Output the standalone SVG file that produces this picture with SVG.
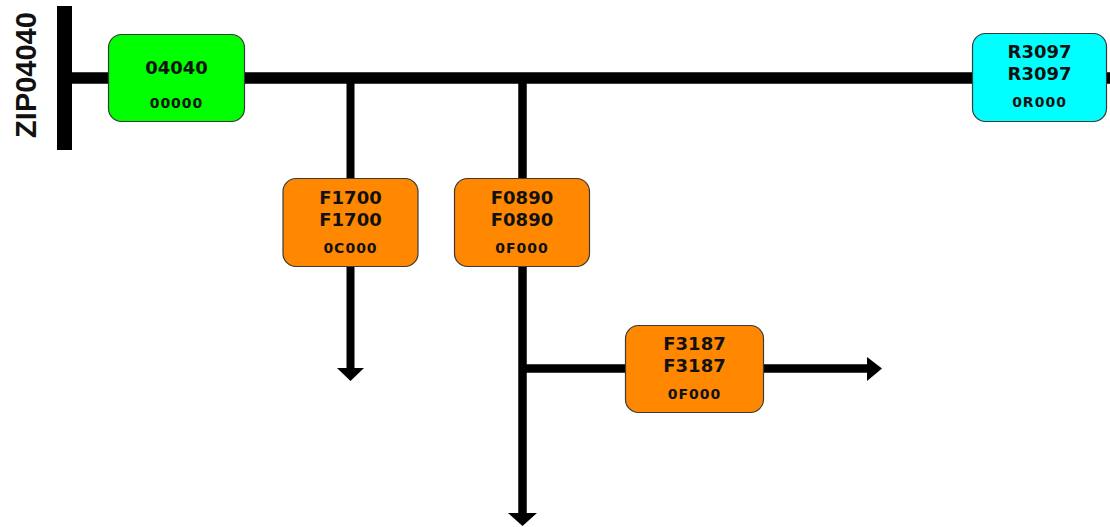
<svg xmlns="http://www.w3.org/2000/svg" width="1110" height="527" viewBox="0 0 1110 527">
<style>
.box{stroke:#3a3a3a;stroke-width:1.2}
.t1{font-family:"DejaVu Sans",Verdana,sans-serif;font-weight:bold;font-size:18px;fill:#111;text-anchor:middle}
.t2{font-family:"DejaVu Sans",Verdana,sans-serif;font-weight:bold;font-size:14px;letter-spacing:1px;fill:#111;text-anchor:middle}
.ln{stroke:#000;fill:none}
.ah{fill:#000}
</style>
<rect width="1110" height="527" fill="#fff"/>
<g id="bus">
<rect x="57" y="6" width="15" height="144" fill="#000"/>
<text x="36" y="75" transform="rotate(-90 36 75)" style="font-family:'Liberation Sans',Arial,sans-serif;font-weight:bold;font-size:29px;fill:#111;text-anchor:middle">ZIP04040</text>
</g>
<g id="connectors">
<line class="ln" x1="72" y1="78" x2="1110" y2="78" stroke-width="11.5"/>
<line class="ln" x1="350.5" y1="83" x2="350.5" y2="369" stroke-width="8"/>
<polygon class="ah" points="337,368 364,368 350.5,381"/>
<line class="ln" x1="522.5" y1="83" x2="522.5" y2="514" stroke-width="8.5"/>
<polygon class="ah" points="508,513 537,513 522.5,526"/>
<line class="ln" x1="522" y1="368.5" x2="868" y2="368.5" stroke-width="8.5"/>
<polygon class="ah" points="867,357 882,368.5 867,381"/>
</g>
<g id="n04040">
<rect class="box" x="108.5" y="34.5" width="136" height="87" rx="13" fill="#00ff00"/>
<text class="t1" x="176.5" y="74">04040</text>
<text class="t2" x="176.5" y="108">00000</text>
</g>
<g id="nR3097">
<rect class="box" x="972.5" y="33.5" width="134" height="88" rx="13" fill="#00ffff"/>
<text class="t1" x="1039.5" y="58">R3097</text>
<text class="t1" x="1039.5" y="80">R3097</text>
<text class="t2" x="1039.5" y="107">0R000</text>
</g>
<g id="nF1700">
<rect class="box" x="283" y="178.5" width="135" height="88" rx="13" fill="#ff8800"/>
<text class="t1" x="350.5" y="204">F1700</text>
<text class="t1" x="350.5" y="226">F1700</text>
<text class="t2" x="350.5" y="253">0C000</text>
</g>
<g id="nF0890">
<rect class="box" x="454.5" y="178.5" width="135" height="88" rx="13" fill="#ff8800"/>
<text class="t1" x="522" y="204">F0890</text>
<text class="t1" x="522" y="226">F0890</text>
<text class="t2" x="522" y="253">0F000</text>
</g>
<g id="nF3187">
<rect class="box" x="625.5" y="325.5" width="138" height="87" rx="13" fill="#ff8800"/>
<text class="t1" x="694.5" y="350">F3187</text>
<text class="t1" x="694.5" y="372">F3187</text>
<text class="t2" x="694.5" y="399">0F000</text>
</g>
</svg>
